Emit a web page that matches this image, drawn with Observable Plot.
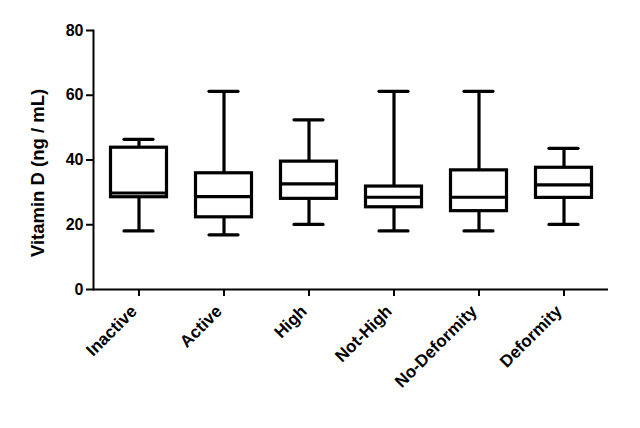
<!DOCTYPE html>
<html>
<head>
<meta charset="utf-8">
<script src="https://cdn.jsdelivr.net/npm/d3@7"></script>
<script src="https://cdn.jsdelivr.net/npm/@observablehq/plot@0.6"></script>
<style>
html, body { margin: 0; padding: 0; background: #fff; }
#chart svg { display: block; }
</style>
</head>
<body>
<div id="chart"></div>
<script>
const categories = ["Inactive", "Active", "High", "Not-High", "No-Deformity", "Deformity"];
const minVals    = [18.1, 16.9, 20.1, 18.1, 18.1, 20.1];
const q1Vals     = [28.5, 22.3, 28.0, 25.4, 24.2, 28.3];
const medianVals = [29.8, 28.7, 32.6, 28.5, 28.5, 32.3];
const q3Vals     = [43.8, 35.9, 39.5, 31.8, 36.8, 37.6];
const maxVals    = [46.4, 61.2, 52.4, 61.2, 61.2, 43.6];
const yTicks = [0, 20, 40, 60, 80];

const data = categories.map((c, i) => ({
  cat: c, min: minVals[i], q1: q1Vals[i], median: medianVals[i], q3: q3Vals[i], max: maxVals[i]
}));

const font = "'Liberation Sans', Arial, sans-serif";
const sw = 3.2;

const chart = Plot.plot({
  width: 640,
  height: 428,
  marginLeft: 93,
  marginRight: 32,
  marginTop: 30,
  marginBottom: 139,
  style: { fontFamily: font, fontWeight: "bold", fontSize: "16px", color: "#000", background: "#fff" },
  x: { domain: categories, padding: 0 },
  y: { domain: [0, 80] },
  marks: [
    Plot.axisY({ ticks: yTicks, tickSize: 7, tickPadding: 3, strokeWidth: 2, fontSize: 16, fontWeight: "bold", label: null }),
    Plot.axisX({ tickSize: 7, strokeWidth: 2, tickFormat: () => "", label: null }),
    Plot.axisX({ tickSize: 0, tickPadding: 7, tickRotate: -45, fontSize: 17, fontWeight: "bold", label: null, dx: -5, dy: 12 }),
    Plot.text(["Vitamin D (ng / mL)"], { frameAnchor: "left", textAnchor: "middle", dx: -55, dy: 13, rotate: -90, fontSize: 18.5, fontWeight: "bold", fill: "#000" }),
    Plot.frame({ anchor: "left", strokeWidth: 2 }),
    Plot.ruleY([0], { strokeWidth: 2 }),
    Plot.ruleX(data, { x: "cat", y1: "min", y2: "max", strokeWidth: sw }),
    Plot.barY(data, { x: "cat", y1: "q1", y2: "q3", fill: "white", stroke: "black", strokeWidth: sw, insetLeft: 14.5, insetRight: 14.5 }),
    Plot.tickY(data, { x: "cat", y: "median", strokeWidth: sw, insetLeft: 14.5, insetRight: 14.5 }),
    Plot.tickY(data, { x: "cat", y: "min", strokeWidth: sw, strokeLinecap: "round", insetLeft: 28, insetRight: 28 }),
    Plot.tickY(data, { x: "cat", y: "max", strokeWidth: sw, strokeLinecap: "round", insetLeft: 28, insetRight: 28 })
  ]
});
document.getElementById("chart").append(chart);
</script>
</body>
</html>
